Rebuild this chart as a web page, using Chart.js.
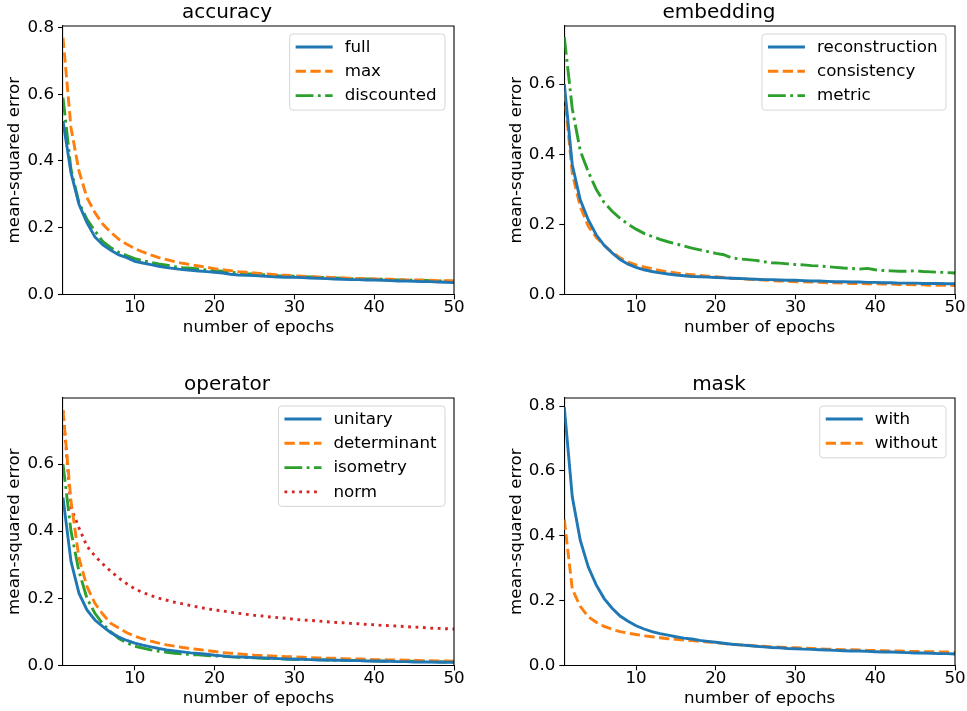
<!DOCTYPE html>
<html>
<head>
<meta charset="utf-8">
<script src="https://cdn.jsdelivr.net/npm/chart.js@4.4.1/dist/chart.umd.min.js"></script>
<style>
  html, body { margin: 0; padding: 0; background: #fff; }
  #wrap { position: relative; width: 967px; height: 711px; background: #fff; overflow: hidden; }
  canvas { position: absolute; }
</style>
</head>
<body>
<div id="wrap">
  <canvas id="c1" width="483" height="340" style="left:0px;top:0px"></canvas>
  <canvas id="c2" width="484" height="340" style="left:483px;top:0px"></canvas>
  <canvas id="c3" width="483" height="339" style="left:0px;top:372px"></canvas>
  <canvas id="c4" width="484" height="339" style="left:483px;top:372px"></canvas>
</div>
<script>
// ---------------- DATA ----------------
const epochs = [1,2,3,4,5,6,7,8,9,10,11,12,13,14,15,16,17,18,19,20,21,22,23,24,25,
                26,27,28,29,30,31,32,33,34,35,36,37,38,39,40,41,42,43,44,45,46,47,48,49,50];
const xTickValues = [10, 20, 30, 40, 50];
const yTicksTo08 = [0.0, 0.2, 0.4, 0.6, 0.8];
const yTicksTo06 = [0.0, 0.2, 0.4, 0.6];

// accuracy
const accFull = [0.52,0.365,0.27,0.215,0.172,0.148,0.132,0.118,0.11,0.099,
  0.094,0.089,0.084,0.08,0.077,0.074,0.072,0.07,0.068,0.066,
  0.064,0.06,0.058,0.057,0.056,0.055,0.053,0.052,0.051,0.051,
  0.05,0.049,0.048,0.047,0.046,0.045,0.044,0.044,0.043,0.043,
  0.042,0.041,0.04,0.04,0.039,0.038,0.038,0.037,0.036,0.035];
const accMax = [0.77,0.50,0.37,0.29,0.245,0.21,0.186,0.165,0.15,0.137,
  0.127,0.118,0.11,0.104,0.098,0.093,0.089,0.085,0.081,0.077,
  0.074,0.071,0.068,0.066,0.064,0.062,0.06,0.058,0.057,0.055,
  0.054,0.053,0.052,0.051,0.05,0.049,0.048,0.047,0.047,0.046,
  0.045,0.045,0.044,0.043,0.043,0.042,0.042,0.041,0.041,0.04];
const accDiscounted = [0.59,0.375,0.275,0.225,0.19,0.158,0.14,0.126,0.116,0.107,
  0.101,0.096,0.091,0.087,0.083,0.08,0.078,0.076,0.073,0.071,
  0.069,0.066,0.064,0.062,0.061,0.059,0.058,0.056,0.055,0.054,
  0.053,0.052,0.051,0.05,0.049,0.048,0.047,0.047,0.046,0.045,
  0.045,0.044,0.043,0.043,0.042,0.042,0.041,0.04,0.04,0.039];

// embedding
const embReconstruction = [0.60,0.37,0.27,0.213,0.17,0.14,0.118,0.099,0.086,0.077,
  0.07,0.065,0.061,0.058,0.055,0.053,0.051,0.05,0.049,0.048,
  0.047,0.046,0.045,0.044,0.043,0.042,0.042,0.041,0.04,0.04,
  0.039,0.038,0.038,0.037,0.036,0.036,0.035,0.035,0.034,0.034,
  0.033,0.033,0.032,0.032,0.032,0.031,0.031,0.031,0.03,0.03];
const embConsistency = [0.58,0.345,0.25,0.195,0.163,0.14,0.12,0.104,0.092,0.084,
  0.078,0.073,0.068,0.064,0.061,0.058,0.056,0.054,0.052,0.05,
  0.048,0.046,0.045,0.043,0.042,0.041,0.039,0.038,0.037,0.036,
  0.036,0.035,0.034,0.033,0.033,0.032,0.031,0.031,0.03,0.03,
  0.029,0.029,0.028,0.028,0.027,0.027,0.026,0.026,0.026,0.025];
const embMetric = [0.735,0.53,0.41,0.35,0.30,0.262,0.237,0.217,0.2,0.186,
  0.174,0.165,0.157,0.15,0.144,0.138,0.132,0.127,0.122,0.117,
  0.113,0.104,0.101,0.099,0.097,0.093,0.09,0.089,0.087,0.085,
  0.084,0.082,0.081,0.079,0.077,0.075,0.074,0.072,0.074,0.07,
  0.068,0.067,0.066,0.066,0.067,0.065,0.064,0.063,0.062,0.061];

// operator
const opUnitary = [0.5,0.31,0.215,0.165,0.135,0.115,0.097,0.084,0.074,0.066,
  0.06,0.055,0.05,0.046,0.043,0.04,0.037,0.035,0.033,0.03,
  0.028,0.026,0.025,0.024,0.023,0.022,0.021,0.02,0.019,0.018,
  0.018,0.017,0.016,0.016,0.015,0.015,0.014,0.014,0.013,0.013,
  0.012,0.012,0.011,0.011,0.01,0.01,0.01,0.009,0.009,0.009];
const opDeterminant = [0.76,0.49,0.32,0.235,0.185,0.152,0.125,0.111,0.097,0.087,
  0.079,0.072,0.066,0.061,0.057,0.053,0.05,0.047,0.044,0.041,
  0.038,0.036,0.034,0.032,0.03,0.029,0.028,0.027,0.026,0.025,
  0.024,0.023,0.022,0.021,0.021,0.02,0.019,0.019,0.018,0.017,
  0.017,0.016,0.016,0.015,0.015,0.014,0.014,0.013,0.013,0.012];
const opIsometry = [0.6,0.4,0.28,0.2,0.155,0.123,0.1,0.08,0.067,0.057,
  0.051,0.046,0.042,0.039,0.036,0.034,0.032,0.031,0.029,0.028,
  0.027,0.025,0.024,0.023,0.022,0.021,0.02,0.02,0.019,0.018,
  0.018,0.017,0.017,0.016,0.016,0.015,0.015,0.014,0.014,0.013,
  0.013,0.013,0.012,0.012,0.012,0.011,0.011,0.011,0.01,0.01];
const opNorm = [0.76,0.47,0.41,0.355,0.326,0.302,0.28,0.26,0.243,0.228,
  0.217,0.208,0.2,0.194,0.188,0.183,0.178,0.173,0.169,0.165,
  0.162,0.158,0.155,0.152,0.149,0.147,0.144,0.142,0.14,0.137,
  0.135,0.134,0.132,0.13,0.128,0.127,0.125,0.124,0.122,0.121,
  0.119,0.118,0.117,0.115,0.114,0.113,0.111,0.11,0.109,0.108];

// mask
const maskWith = [0.797,0.52,0.386,0.304,0.248,0.206,0.176,0.152,0.136,0.122,
  0.112,0.104,0.098,0.093,0.088,0.084,0.081,0.077,0.074,0.071,
  0.068,0.065,0.063,0.061,0.059,0.057,0.055,0.054,0.052,0.051,
  0.05,0.049,0.048,0.047,0.046,0.045,0.044,0.044,0.043,0.042,
  0.041,0.041,0.04,0.039,0.038,0.038,0.037,0.036,0.036,0.035];
const maskWithout = [0.45,0.235,0.182,0.15,0.133,0.12,0.111,0.104,0.099,0.095,
  0.091,0.088,0.085,0.082,0.08,0.078,0.076,0.074,0.072,0.07,
  0.067,0.065,0.063,0.062,0.06,0.059,0.057,0.056,0.055,0.054,
  0.053,0.052,0.051,0.05,0.049,0.048,0.048,0.047,0.046,0.046,
  0.045,0.044,0.044,0.043,0.043,0.042,0.042,0.041,0.041,0.04];

// ---------------- STYLE ----------------
const C_BLUE = '#1f77b4', C_ORANGE = '#ff7f0e', C_GREEN = '#2ca02c', C_RED = '#d62728';
const LW = 2.9;
const DASH_SOLID = [];
const DASH_DASHED = [10.3, 4.45];
const DASH_DASHDOT = [17.8, 4.45, 2.8, 4.45];
const DASH_DOTTED = [2.8, 4.6];
const FONT_SIZE = 16.7;

Chart.defaults.font.family = "'DejaVu Sans', sans-serif";
Chart.defaults.color = '#000';

function series(label, values, color, dash) {
  return {
    label: label,
    data: epochs.map((e, i) => ({ x: e, y: values[i] })),
    borderColor: color,
    backgroundColor: color,
    borderWidth: LW,
    borderDash: dash,
    pointRadius: 0,
    pointHoverRadius: 0,
    tension: 0,
    fill: false,
    clip: 0
  };
}

// spines (top/right) + matplotlib-style legend box inside the axes
const framePlugin = {
  id: 'frameAndLegend',
  afterDraw(chart) {
    const ctx = chart.ctx;
    const a = chart.chartArea;
    ctx.save();
    ctx.strokeStyle = '#000';
    ctx.lineWidth = 1.1;
    ctx.setLineDash([]);
    ctx.beginPath();
    ctx.moveTo(a.left, a.top);
    ctx.lineTo(a.right, a.top);
    ctx.lineTo(a.right, a.bottom);
    ctx.stroke();

    // legend
    const ds = chart.data.datasets;
    ctx.font = FONT_SIZE + "px 'DejaVu Sans', sans-serif";
    let maxW = 0;
    ds.forEach(d => { maxW = Math.max(maxW, ctx.measureText(d.label).width); });
    const rowH = 24.3;
    const w = 55 + maxW + 8.5;
    const h = ds.length * rowH + 3.2;
    const right = a.right - 9;
    const left = right - w;
    const top = a.top + 8;
    const r = 3.3;
    ctx.beginPath();
    ctx.moveTo(left + r, top);
    ctx.lineTo(right - r, top);
    ctx.arcTo(right, top, right, top + r, r);
    ctx.lineTo(right, top + h - r);
    ctx.arcTo(right, top + h, right - r, top + h, r);
    ctx.lineTo(left + r, top + h);
    ctx.arcTo(left, top + h, left, top + h - r, r);
    ctx.lineTo(left, top + r);
    ctx.arcTo(left, top, left + r, top, r);
    ctx.closePath();
    ctx.fillStyle = 'rgba(255,255,255,0.8)';
    ctx.fill();
    ctx.strokeStyle = 'rgba(204,204,204,0.8)';
    ctx.lineWidth = 1;
    ctx.stroke();

    ds.forEach((d, i) => {
      const y = top + 13 + i * rowH;
      ctx.beginPath();
      ctx.strokeStyle = d.borderColor;
      ctx.lineWidth = d.borderWidth;
      ctx.lineCap = 'butt';
      ctx.setLineDash(d.borderDash || []);
      ctx.moveTo(left + 6, y);
      ctx.lineTo(left + 43, y);
      ctx.stroke();
      ctx.setLineDash([]);
      ctx.fillStyle = '#000';
      ctx.textAlign = 'left';
      ctx.textBaseline = 'middle';
      ctx.fillText(d.label, left + 55, y + 0.5);
    });
    ctx.restore();
  }
};

function makeChart(id, title, datasets, yMax, yTicks, geom) {
  return new Chart(document.getElementById(id), {
    type: 'line',
    data: { datasets: datasets },
    options: {
      responsive: false,
      animation: false,
      events: [],
      layout: { padding: { left: 0, right: geom.padRight, top: 0, bottom: 0 } },
      plugins: {
        legend: { display: false },
        tooltip: { enabled: false },
        title: {
          display: true,
          text: title,
          color: '#000',
          font: { size: 20, weight: 'normal', lineHeight: 1 },
          padding: { top: 2.5, bottom: 3.5 }
        }
      },
      scales: {
        x: {
          type: 'linear',
          min: 1,
          max: 50,
          afterBuildTicks: s => { s.ticks = xTickValues.map(v => ({ value: v })); },
          afterFit: s => { s.height = geom.xHeight; },
          grid: { display: true, drawOnChartArea: false, drawTicks: true, tickLength: 5, tickWidth: 1.1, color: '#000', tickColor: '#000' },
          border: { display: true, color: '#000', width: 1.1 },
          ticks: {
            color: '#000', font: { size: FONT_SIZE, lineHeight: 1 }, padding: 0,
            maxRotation: 0, autoSkip: false, callback: v => String(v)
          },
          title: {
            display: true, text: 'number of epochs', color: '#000',
            font: { size: FONT_SIZE, lineHeight: 1.2 }, padding: { top: 0, bottom: 2.3 }
          }
        },
        y: {
          type: 'linear',
          min: 0,
          max: yMax,
          afterBuildTicks: s => { s.ticks = yTicks.map(v => ({ value: v })); },
          afterFit: s => { s.width = geom.yWidth; },
          grid: { display: true, drawOnChartArea: false, drawTicks: true, tickLength: 5, tickWidth: 1.1, color: '#000', tickColor: '#000' },
          border: { display: true, color: '#000', width: 1.1 },
          ticks: {
            color: '#000', font: { size: FONT_SIZE }, padding: 4,
            autoSkip: false, callback: v => Number(v).toFixed(1)
          },
          title: {
            display: true, text: 'mean-squared error', color: '#000',
            font: { size: FONT_SIZE, lineHeight: 1.2 }, padding: { top: geom.yTitlePad, bottom: 0 }
          }
        }
      }
    },
    plugins: [framePlugin]
  });
}

const leftGeom = { padRight: 29, xHeight: 45.7, yWidth: 63, yTitlePad: 5 };
const rightGeom = { padRight: 12, xHeight: 45.7, yWidth: 81.3, yTitlePad: 23.9 };

makeChart('c1', 'accuracy', [
  series('full', accFull, C_BLUE, DASH_SOLID),
  series('max', accMax, C_ORANGE, DASH_DASHED),
  series('discounted', accDiscounted, C_GREEN, DASH_DASHDOT)
], 0.805, yTicksTo08, leftGeom);

makeChart('c2', 'embedding', [
  series('reconstruction', embReconstruction, C_BLUE, DASH_SOLID),
  series('consistency', embConsistency, C_ORANGE, DASH_DASHED),
  series('metric', embMetric, C_GREEN, DASH_DASHDOT)
], 0.766, yTicksTo06, rightGeom);

makeChart('c3', 'operator', [
  series('unitary', opUnitary, C_BLUE, DASH_SOLID),
  series('determinant', opDeterminant, C_ORANGE, DASH_DASHED),
  series('isometry', opIsometry, C_GREEN, DASH_DASHDOT),
  series('norm', opNorm, C_RED, DASH_DOTTED)
], 0.797, yTicksTo06, leftGeom);

makeChart('c4', 'mask', [
  series('with', maskWith, C_BLUE, DASH_SOLID),
  series('without', maskWithout, C_ORANGE, DASH_DASHED)
], 0.825, yTicksTo08, rightGeom);
</script>
</body>
</html>
